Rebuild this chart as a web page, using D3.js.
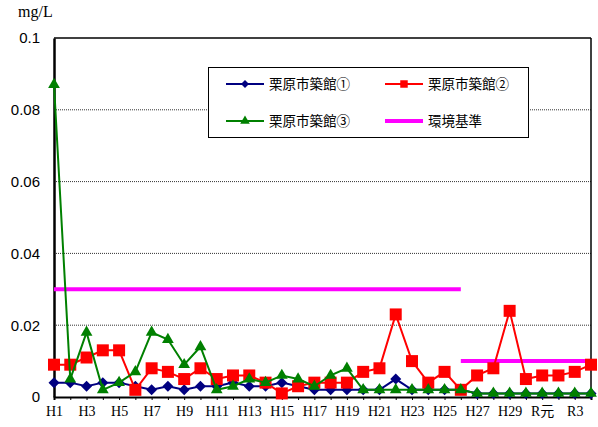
<!DOCTYPE html>
<html><head><meta charset="utf-8">
<script src="https://cdn.jsdelivr.net/npm/d3@7"></script>
<style>body{margin:0;background:#fff}svg{display:block}</style>
</head><body>
<script>
const categories = ["H1","H2","H3","H4","H5","H6","H7","H8","H9","H10","H11","H12","H13","H14","H15","H16","H17","H18","H19","H20","H21","H22","H23","H24","H25","H26","H27","H28","H29","H30","R元","R2","R3","R4"];
const tickLabels = ["H1","H3","H5","H7","H9","H11","H13","H15","H17","H19","H21","H23","H25","H27","H29","R元","R3"];
const site1 = [0.004,0.004,0.003,0.004,0.004,0.003,0.002,0.003,0.002,0.003,0.003,0.004,0.003,0.003,0.004,0.003,0.002,0.002,0.002,0.002,0.002,0.005,0.002,0.002,0.002,0.002,0.001,0.001,0.001,0.001,0.001,0.001,0.001,0.001];
const site2 = [0.009,0.009,0.011,0.013,0.013,0.002,0.008,0.007,0.005,0.008,0.005,0.006,0.006,0.004,0.001,0.003,0.004,0.004,0.004,0.007,0.008,0.023,0.010,0.004,0.007,0.002,0.006,0.008,0.024,0.005,0.006,0.006,0.007,0.009];
const site3 = [0.087,0.005,0.018,0.002,0.004,0.007,0.018,0.016,0.009,0.014,0.002,0.003,0.005,0.004,0.006,0.005,0.003,0.006,0.008,0.002,0.002,0.002,0.002,0.002,0.002,0.002,0.001,0.001,0.001,0.001,0.001,0.001,0.001,0.001];
const stdOld = {from:"H1", to:"H26", value:0.03};
const stdNew = {from:"H26", to:"R4", value:0.01};
const yTicks = [0,0.02,0.04,0.06,0.08,0.1];
const seriesNames = ["栗原市築館①","栗原市築館②","栗原市築館③","環境基準"];

const W=598,H=427;
const m={l:54,r:7,t:38,b:30};
const svg=d3.select("body").append("svg").attr("width",W).attr("height",H);
const x=d3.scalePoint().domain(categories).range([m.l,W-m.r]);
const y=d3.scaleLinear().domain([0,0.1]).range([H-m.b,m.t]);
const serif='"Liberation Serif","Noto Sans CJK JP",serif';
const sans='"Liberation Sans",Arial,sans-serif';
const jp='"Noto Sans CJK JP",sans-serif';

// gridlines
svg.append("g").selectAll("line").data(yTicks.filter(d=>d>0&&d<0.1)).join("line")
  .attr("x1",m.l).attr("x2",W-m.r).attr("y1",d=>y(d)).attr("y2",d=>y(d))
  .attr("stroke","#333").attr("stroke-width",1).attr("stroke-dasharray","1,1");
// frame
svg.append("line").attr("x1",m.l).attr("x2",W-m.r).attr("y1",y(0.1)).attr("y2",y(0.1)).attr("stroke","#000").attr("stroke-width",1.5);
svg.append("line").attr("x1",W-m.r).attr("x2",W-m.r).attr("y1",y(0.1)).attr("y2",y(0)).attr("stroke","#000").attr("stroke-width",1.5);

// y axis
const ya=svg.append("g").attr("transform",`translate(${m.l},0)`)
  .call(d3.axisLeft(y).tickValues(yTicks).tickSize(0).tickPadding(14).tickFormat(d=>d===0?"0":d3.format("")(+d.toFixed(2))));
ya.select(".domain").attr("stroke","#000").attr("stroke-width",2.5);
ya.selectAll("text").attr("font-family",sans).attr("font-size",15).attr("fill","#000");

// x axis
const xa=svg.append("g").attr("transform",`translate(0,${y(0)})`)
  .call(d3.axisBottom(x).tickSize(3).tickFormat(d=>tickLabels.includes(d)?d:""));
xa.select(".domain").attr("stroke","#000").attr("stroke-width",2);
xa.selectAll(".tick line").attr("stroke","#000");
xa.selectAll("text").attr("font-family",serif).attr("font-size",14).attr("fill","#000").attr("dy","0.95em");

svg.append("text").attr("x",18).attr("y",17).attr("font-family",serif).attr("font-size",16).text("mg/L");

// standard lines
[stdOld,stdNew].forEach(s=>{
  svg.append("line").attr("x1",x(s.from)).attr("x2",x(s.to)).attr("y1",y(s.value)).attr("y2",y(s.value))
    .attr("stroke","#FF00FF").attr("stroke-width",4);
});

const line=d3.line().x((d,i)=>x(categories[i])).y(d=>y(d));
const diamondPath=r=>`M0,${-r}L${r},0L0,${r}L${-r},0Z`;
const tri=d3.symbol().type(d3.symbolTriangle);

function drawSeries(data,color,marker){
  const g=svg.append("g");
  g.append("path").datum(data).attr("d",line).attr("fill","none").attr("stroke",color).attr("stroke-width",2);
  g.selectAll("path.m").data(data).join("path").attr("class","m")
    .attr("transform",(d,i)=>`translate(${x(categories[i])},${y(d)})`)
    .attr("d",marker).attr("fill",color);
}
drawSeries(site1,"#000080",diamondPath(5.5));
drawSeries(site2,"#FF0000",d3.symbol().type(d3.symbolSquare).size(144)());
drawSeries(site3,"#008000",tri.size(60)());

// legend
const lg=svg.append("g");
lg.append("rect").attr("x",208.5).attr("y",67.5).attr("width",320).attr("height",70).attr("fill","#fff").attr("stroke","#000").attr("stroke-width",1);
const items=[
 {name:seriesNames[0],color:"#000080",mk:diamondPath(4),lx:226,ty:84},
 {name:seriesNames[1],color:"#FF0000",mk:d3.symbol().type(d3.symbolSquare).size(56)(),lx:385,ty:84},
 {name:seriesNames[2],color:"#008000",mk:tri.size(40)(),lx:226,ty:121},
 {name:seriesNames[3],color:"#FF00FF",mk:null,lx:385,ty:121}];
items.forEach(it=>{
  lg.append("line").attr("x1",it.lx).attr("x2",it.lx+38).attr("y1",it.ty).attr("y2",it.ty)
    .attr("stroke",it.color).attr("stroke-width",it.mk?2:4);
  if(it.mk) lg.append("path").attr("d",it.mk).attr("transform",`translate(${it.lx+19},${it.ty})`).attr("fill",it.color);
  lg.append("text").attr("x",it.lx+43).attr("y",it.ty).attr("dy","0.35em").attr("font-family",jp).attr("font-size",13.5).attr("fill","#000").text(it.name);
});
</script>
</body></html>
